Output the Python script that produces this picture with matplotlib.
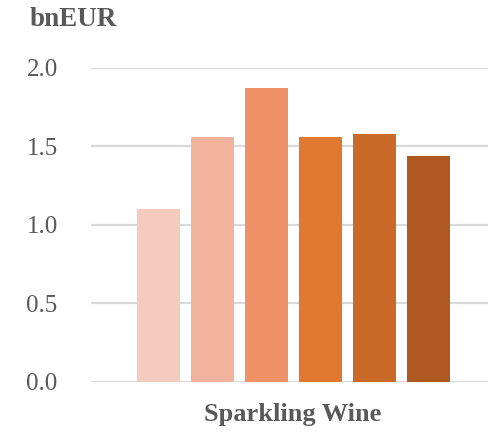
import matplotlib.pyplot as plt

# values (bnEUR)
series = ["s1", "s2", "s3", "s4", "s5", "s6"]
values = [1.10, 1.56, 1.87, 1.56, 1.58, 1.44]
colors = ["#F5CBBD", "#F2B39C", "#F09268", "#E07830", "#C96A28", "#AE5921"]
yticks = [0.0, 0.5, 1.0, 1.5, 2.0]
category = "Sparkling Wine"

plt.rcParams['font.family'] = ['Liberation Serif', 'DejaVu Serif']
text_col = "#595959"

fig = plt.figure(figsize=(4.89, 4.32), dpi=100)
ax = fig.add_axes([91 / 489, 1 - 382 / 432, 1 - 91 / 489, (382 - 67.7) / 432])

x = list(range(len(values)))
ax.bar(x, values, width=0.8, color=colors, zorder=3)

ax.set_ylim(0, 2.0)
ax.set_xlim(-1.252, 6.12)
ax.set_yticks(yticks)
ax.set_yticklabels([f"{t:.1f}" for t in yticks], fontsize=18, color=text_col)
ax.tick_params(axis='y', length=0, pad=24)
ax.set_xticks([])
for t in yticks:
    ax.axhline(t, color="#D9D9D9", linewidth=1.6, zorder=1)
for s in ax.spines.values():
    s.set_visible(False)

fig.text(30 / 489, 1 - 19 / 432, "bnEUR", fontsize=19.5, fontweight='bold',
         color=text_col, ha='left', va='center')
fig.text(293 / 489, 1 - 415 / 432, category, fontsize=19, fontweight='bold',
         color=text_col, ha='center', va='center')

plt.savefig("out.png", dpi=100)
